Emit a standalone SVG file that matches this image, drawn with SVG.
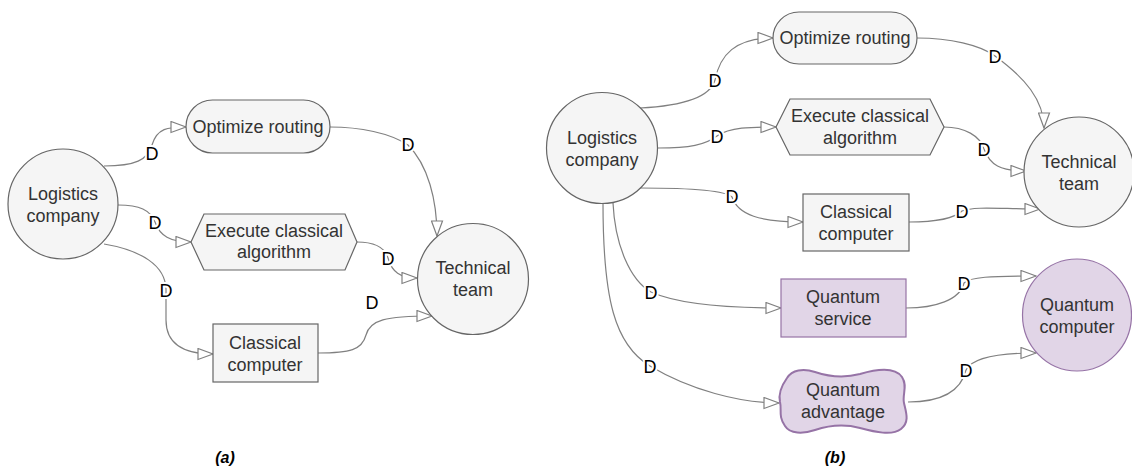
<svg xmlns="http://www.w3.org/2000/svg" width="1132" height="468" viewBox="0 0 1132 468">
<style>
.n{fill:#f5f5f5;stroke:#666666;stroke-width:1.2}
.q{fill:#e1d5e7;stroke:#9673a6;stroke-width:1.2}
.t{font-family:"Liberation Sans",Arial,sans-serif;font-size:18px;fill:#333333;text-anchor:middle}
.e{fill:none;stroke:#808080;stroke-width:1.2;marker-end:url(#arr)}
.d{font-family:"Liberation Sans",Arial,sans-serif;font-size:18px;fill:#000000;text-anchor:middle;stroke:#ffffff;stroke-width:4;paint-order:stroke}
.cap{font-family:"Liberation Sans",Arial,sans-serif;font-size:16px;font-weight:bold;font-style:italic;fill:#000000;text-anchor:middle}
</style>
<defs>
<marker id="arr" markerUnits="userSpaceOnUse" markerWidth="17" markerHeight="13" viewBox="0 0 17 13" refX="16" refY="6.5" orient="auto">
<path d="M1,1 L16,6.5 L1,12 Z" fill="#ffffff" stroke="#808080" stroke-width="1.2"/>
</marker>
</defs>
<rect width="1132" height="468" fill="#ffffff"/>

<g id="connectors">
<!-- panel a -->
<path class="e" d="M104,166 C135,166 148,160 152,145 C157,128 168,127 186,127"/>
<path class="e" d="M118,205 C140,205 150,210 155,222 C160,236 170,242 191,242"/>
<path class="e" d="M104,244 C140,250 166,265 166,290 L166,320 C166,345 185,354 213,354"/>
<path class="e" d="M330,127 C360,127 390,133 408,145 C428,165 437,200 437,236"/>
<path class="e" d="M357,242 C375,242 385,248 388,258 C392,272 400,278 417,278"/>
<path class="e" d="M318,353 C350,353 362,350 366,335 C370,320 385,316 432,316"/>
<!-- panel b -->
<path class="e" d="M640,108 C680,106 710,98 715,80 C720,55 735,38 773,38"/>
<path class="e" d="M658,148 C690,148 705,145 717,136 C730,127 750,127 776,127"/>
<path class="e" d="M640,188 C690,188 725,190 732,197 C738,215 760,222 803,222"/>
<path class="e" d="M917,38 C950,38 980,45 995,56 C1025,78 1044,100 1044,128"/>
<path class="e" d="M944,127 C965,127 980,136 984,149 C990,165 1000,171 1026,171"/>
<path class="e" d="M909,222 C935,222 955,218 962,211 C975,206 1000,209 1040,209"/>
<path class="e" d="M613,203 C615,245 630,280 651,292 C680,305 730,308 781,308"/>
<path class="e" d="M603,203 C603,300 615,345 650,366 C690,390 740,403 779,403"/>
<path class="e" d="M906,308 C935,308 960,300 964,283 C970,277 990,276 1036,276"/>
<path class="e" d="M908,402 C935,402 960,395 966,370 C972,358 995,353 1036,353"/>
<!-- labels -->
<text class="d" x="152" y="160">D</text>
<text class="d" x="155" y="229">D</text>
<text class="d" x="166" y="297">D</text>
<text class="d" x="408" y="151">D</text>
<text class="d" x="388" y="265">D</text>
<text class="d" x="372" y="309">D</text>
<text class="d" x="715" y="87">D</text>
<text class="d" x="717" y="143">D</text>
<text class="d" x="732" y="203">D</text>
<text class="d" x="995" y="63">D</text>
<text class="d" x="984" y="156">D</text>
<text class="d" x="962" y="218">D</text>
<text class="d" x="651" y="299">D</text>
<text class="d" x="650" y="373">D</text>
<text class="d" x="964" y="290">D</text>
<text class="d" x="966" y="377">D</text>
</g>

<!-- panel a nodes -->
<g id="a-logistics"><circle class="n" cx="63" cy="204" r="55"/><text class="t" x="63" y="200">Logistics</text><text class="t" x="63" y="222">company</text></g>
<g id="a-optimize"><rect class="n" x="186" y="100" width="144" height="53" rx="26.5"/><text class="t" x="258" y="133">Optimize routing</text></g>
<g id="a-execute"><polygon class="n" points="191,242 204,214 345,214 357,242 345,270 204,270"/><text class="t" x="274" y="237">Execute classical</text><text class="t" x="274" y="258">algorithm</text></g>
<g id="a-technical"><circle class="n" cx="473" cy="279" r="55.5"/><text class="t" x="473" y="274">Technical</text><text class="t" x="473" y="296">team</text></g>
<g id="a-classical"><rect class="n" x="213" y="324" width="105" height="58"/><text class="t" x="265" y="349">Classical</text><text class="t" x="265" y="371">computer</text></g>

<!-- panel b nodes -->
<g id="b-logistics"><circle class="n" cx="602" cy="148" r="55.5"/><text class="t" x="602" y="144">Logistics</text><text class="t" x="602" y="166">company</text></g>
<g id="b-optimize"><rect class="n" x="773" y="12" width="144" height="52" rx="26"/><text class="t" x="845" y="44">Optimize routing</text></g>
<g id="b-execute"><polygon class="n" points="776,127 790,99 930,99 944,127 930,155 790,155"/><text class="t" x="860" y="122">Execute classical</text><text class="t" x="860" y="144">algorithm</text></g>
<g id="b-technical"><circle class="n" cx="1079" cy="172" r="55"/><text class="t" x="1079" y="168">Technical</text><text class="t" x="1079" y="190">team</text></g>
<g id="b-classical"><rect class="n" x="803" y="194" width="106" height="57"/><text class="t" x="856" y="218">Classical</text><text class="t" x="856" y="240">computer</text></g>
<g id="b-qservice"><rect class="q" x="781" y="279" width="125" height="58"/><text class="t" x="843" y="303">Quantum</text><text class="t" x="843" y="325">service</text></g>
<g id="b-qcomputer"><ellipse class="q" cx="1077" cy="315" rx="54.5" ry="56"/><text class="t" x="1077" y="311">Quantum</text><text class="t" x="1077" y="333">computer</text></g>
<g id="b-qadvantage"><path class="q" style="stroke-width:2" d="M787,378 C792,370 803,368 815,372 C830,377 845,378 860,374 C877,369 895,367 902,377 C908,386 902,395 904,403 C906,412 910,422 901,429 C892,436 875,432 860,428 C845,424 830,425 815,430 C803,434 790,434 785,426 C778,416 782,410 780,402 C778,393 782,385 787,378 Z"/><text class="t" x="843" y="396">Quantum</text><text class="t" x="843" y="418">advantage</text></g>

<g id="captions">
<text class="cap" x="225" y="463">(a)</text>
<text class="cap" x="835" y="463">(b)</text>
</g>
</svg>
